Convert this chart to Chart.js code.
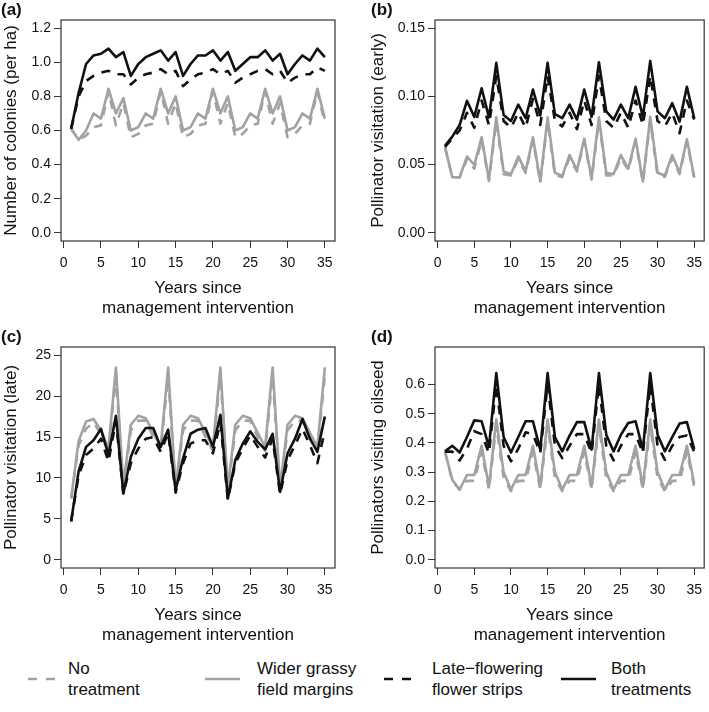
<!DOCTYPE html>
<html><head><meta charset="utf-8">
<script src="https://cdn.jsdelivr.net/npm/chart.js@4"></script>
<style>
html,body{margin:0;padding:0;background:#fff;}
body{width:709px;height:712px;position:relative;overflow:hidden;font-family:"Liberation Sans",Arial,sans-serif;color:#111;}
canvas{position:absolute;}
.lab{position:absolute;font-weight:bold;font-size:17px;line-height:20px;}
.leg{position:absolute;font-size:17px;line-height:21px;white-space:nowrap;}
svg.samp{position:absolute;overflow:visible;}
</style></head><body>
<canvas id="ca" width="354" height="330" style="left:0;top:0"></canvas>
<canvas id="cb" width="349" height="330" style="left:360px;top:0"></canvas>
<canvas id="cc" width="354" height="330" style="left:0;top:327px"></canvas>
<canvas id="cd" width="349" height="330" style="left:360px;top:327px"></canvas>
<div class="lab" style="left:1px;top:0px">(a)</div>
<div class="lab" style="left:371px;top:0px">(b)</div>
<div class="lab" style="left:1px;top:327px">(c)</div>
<div class="lab" style="left:371px;top:327px">(d)</div>
<div id="legend"></div>
<script>
// ---- data ----
const years = [1,2,3,4,5,6,7,8,9,10,11,12,13,14,15,16,17,18,19,20,21,22,23,24,25,26,27,28,29,30,31,32,33,34,35];
const xTicks = [0,5,10,15,20,25,30,35];
const seriesNames = ["No treatment", "Wider grassy field margins", "Late\u2212flowering flower strips", "Both treatments"];
const legendLines = [["No","treatment"],["Wider grassy","field margins"],["Late\u2212flowering","flower strips"],["Both","treatments"]];

// (a) Number of colonies (per ha)
const aTicks = [0.0,0.2,0.4,0.6,0.8,1.0,1.2];
const aNone  = [0.61,0.545,0.57,0.62,0.63,0.83,0.63,0.76,0.56,0.58,0.63,0.64,0.83,0.64,0.76,0.56,0.58,0.63,0.64,0.83,0.64,0.76,0.56,0.58,0.63,0.64,0.83,0.64,0.76,0.56,0.58,0.63,0.64,0.83,0.64];
const aWider = [0.61,0.545,0.60,0.70,0.67,0.845,0.70,0.79,0.60,0.62,0.70,0.67,0.845,0.70,0.80,0.60,0.62,0.70,0.67,0.845,0.70,0.80,0.60,0.62,0.70,0.67,0.845,0.70,0.80,0.60,0.62,0.70,0.67,0.845,0.67];
const aLate  = [0.61,0.80,0.89,0.92,0.94,0.95,0.93,0.93,0.87,0.91,0.93,0.94,0.96,0.93,0.95,0.86,0.90,0.93,0.94,0.96,0.93,0.95,0.88,0.91,0.93,0.95,0.96,0.93,0.95,0.88,0.91,0.93,0.93,0.97,0.95];
const aBoth  = [0.61,0.82,0.99,1.04,1.05,1.08,1.03,1.06,0.92,0.99,1.03,1.05,1.07,1.01,1.06,0.92,0.99,1.04,1.04,1.07,1.01,1.06,0.95,0.99,1.03,1.03,1.07,1.01,1.05,0.93,0.99,1.04,1.01,1.08,1.03];

// (b) Pollinator visitation (early)
const bTicks = [0.00,0.05,0.10,0.15];
const bNone  = [0.063,0.0405,0.0405,0.054,0.047,0.068,0.038,0.082,0.043,0.042,0.054,0.044,0.068,0.037,0.082,0.042,0.041,0.055,0.045,0.067,0.039,0.082,0.042,0.042,0.055,0.046,0.067,0.037,0.082,0.042,0.041,0.055,0.043,0.067,0.040];
const bWider = [0.063,0.0407,0.0407,0.056,0.0497,0.070,0.0388,0.0846,0.045,0.043,0.056,0.045,0.070,0.0376,0.0846,0.044,0.0417,0.057,0.046,0.069,0.040,0.0846,0.044,0.043,0.057,0.047,0.069,0.0376,0.085,0.044,0.042,0.057,0.044,0.0685,0.041];
const bLate  = [0.063,0.069,0.075,0.088,0.077,0.097,0.079,0.115,0.082,0.077,0.088,0.077,0.098,0.079,0.115,0.082,0.078,0.088,0.076,0.097,0.079,0.115,0.082,0.077,0.088,0.077,0.097,0.079,0.115,0.082,0.078,0.088,0.073,0.097,0.083];
const bBoth  = [0.0637,0.0705,0.079,0.0968,0.085,0.106,0.0846,0.1246,0.0863,0.082,0.094,0.084,0.105,0.086,0.1246,0.087,0.084,0.094,0.083,0.105,0.085,0.125,0.089,0.083,0.094,0.084,0.107,0.085,0.126,0.089,0.084,0.095,0.0815,0.107,0.084];

// (c) Pollinator visitation (late)
const cTicks = [0,5,10,15,20,25];
const cNone  = [7.5,14.0,16.0,16.8,15.3,13.2,22.5,8.7,15.8,17.0,17.0,15.0,13.3,22.5,8.5,15.8,17.0,17.0,15.0,13.3,22.5,8.5,15.8,17.0,17.0,15.0,13.3,22.5,8.5,15.8,17.0,17.0,15.0,13.3,22.5];
const cWider = [7.5,14.5,16.9,17.2,15.8,13.6,23.5,9.0,16.5,17.6,17.3,15.5,13.8,23.5,8.8,16.5,17.6,17.3,15.5,13.8,23.5,8.8,16.5,17.6,17.3,15.5,13.8,23.5,8.8,16.5,17.6,17.3,15.5,13.8,23.5];
const cLate  = [4.7,10.3,12.8,13.6,14.8,12.0,17.0,8.0,11.8,13.6,14.8,15.0,13.2,15.5,8.2,11.8,14.2,14.6,14.6,13.0,16.8,7.3,11.8,13.6,15.2,13.8,12.5,14.8,8.0,12.2,14.0,16.0,14.0,11.8,15.8];
const cBoth  = [4.7,10.8,13.8,14.6,16.0,12.8,17.6,8.1,12.6,14.8,16.1,16.1,13.8,15.9,8.5,12.4,15.4,15.9,16.1,13.8,17.7,7.5,12.2,14.2,15.7,14.4,13.5,15.4,8.3,13.0,14.8,17.2,14.8,13.2,17.5];

// (d) Pollinators visiting oilseed
const dTicks = [0.0,0.1,0.2,0.3,0.4,0.5,0.6];
const dNone  = [0.37,0.27,0.24,0.27,0.27,0.37,0.24,0.46,0.28,0.235,0.27,0.27,0.37,0.24,0.46,0.28,0.235,0.27,0.27,0.37,0.24,0.46,0.28,0.235,0.27,0.27,0.37,0.24,0.46,0.28,0.235,0.27,0.27,0.37,0.25];
const dWider = [0.37,0.274,0.24,0.29,0.29,0.39,0.25,0.48,0.30,0.24,0.29,0.29,0.39,0.25,0.48,0.30,0.24,0.29,0.29,0.39,0.25,0.48,0.30,0.24,0.29,0.29,0.39,0.25,0.48,0.30,0.24,0.29,0.29,0.39,0.26];
const dLate  = [0.37,0.37,0.34,0.38,0.44,0.43,0.365,0.60,0.39,0.337,0.38,0.436,0.43,0.365,0.60,0.39,0.348,0.39,0.43,0.43,0.365,0.60,0.39,0.34,0.39,0.43,0.43,0.365,0.60,0.39,0.342,0.39,0.42,0.425,0.37];
const dBoth  = [0.371,0.39,0.367,0.42,0.477,0.474,0.386,0.639,0.42,0.367,0.42,0.474,0.474,0.377,0.639,0.42,0.371,0.425,0.471,0.471,0.377,0.639,0.428,0.371,0.428,0.468,0.474,0.377,0.639,0.428,0.371,0.42,0.466,0.471,0.379];

// ---- styling ----
const FONT = "'Liberation Sans', Arial, Helvetica, sans-serif";
const GREY = '#a2a2a2', BLACK = '#111111';
const styles = [
  {color: GREY, dash: [9, 8]},
  {color: GREY, dash: []},
  {color: BLACK, dash: [9, 8]},
  {color: BLACK, dash: []}
];

const boxPlugin = {
  id: 'box',
  afterDraw(chart) {
    const {ctx, chartArea: a} = chart;
    ctx.save();
    ctx.strokeStyle = '#333';
    ctx.lineWidth = 1.2;
    ctx.strokeRect(a.left, a.top, a.right - a.left, a.bottom - a.top);
    ctx.restore();
  }
};

function panel(id, seriesList, yTicks, yMin, yMax, dec, yTitle, yW, padRight, titlePadTop) {
  const datasets = seriesList.map((vals, i) => ({
    label: seriesNames[i],
    data: years.map((yr, k) => ({x: yr, y: vals[k]})),
    borderColor: styles[i].color,
    borderDash: styles[i].dash,
    borderWidth: 2.6,
    pointRadius: 0,
    tension: 0,
    fill: false,
    borderJoinStyle: 'round',
    borderCapStyle: 'butt',
    order: 4 - i
  }));
  new Chart(document.getElementById(id), {
    type: 'line',
    data: {datasets},
    plugins: [boxPlugin],
    options: {
      responsive: false,
      animation: false,
      devicePixelRatio: 1,
      layout: {padding: {left: 0, right: padRight, top: 20, bottom: 0}, autoPadding: false},
      plugins: {legend: {display: false}, tooltip: {enabled: false}},
      scales: {
        x: {
          type: 'linear', min: -0.36, max: 36.36,
          afterBuildTicks: s => { s.ticks = xTicks.map(v => ({value: v})); },
          afterFit: s => { s.height = 89; },
          ticks: {font: {size: 14, family: FONT}, color: '#111', padding: 7, maxRotation: 0, autoSkip: false},
          grid: {drawOnChartArea: false, drawTicks: true, tickLength: 7, color: '#333', lineWidth: 1},
          border: {display: false},
          title: {display: true, text: ['Years since', 'management intervention'], color: '#111',
                  font: {size: 17, family: FONT, lineHeight: 1.22}, padding: {top: 0, bottom: 11}}
        },
        y: {
          type: 'linear', min: yMin, max: yMax,
          afterBuildTicks: s => { s.ticks = yTicks.map(v => ({value: v})); },
          afterFit: s => { s.width = yW; },
          ticks: {font: {size: 14, family: FONT}, color: '#111', padding: 3,
                  callback: v => Number(v).toFixed(dec)},
          grid: {drawOnChartArea: false, drawTicks: true, tickLength: 7, color: '#333', lineWidth: 1},
          border: {display: false},
          title: {display: true, text: yTitle, color: '#111',
                  font: {size: 17, family: FONT, lineHeight: 1.2}, padding: {top: titlePadTop, bottom: 0}}
        }
      }
    }
  });
}

panel('ca', [aNone, aWider, aLate, aBoth], aTicks, -0.048, 1.248, 1, 'Number of colonies (per ha)', 61, 19, 1);
panel('cb', [bNone, bWider, bLate, bBoth], bTicks, -0.006, 0.156, 2, 'Pollinator visitation (early)', 75, 0, 8);
panel('cc', [cNone, cWider, cLate, cBoth], cTicks, -1, 26, 0, 'Pollinator visitation (late)', 61, 19, 1);
panel('cd', [dNone, dWider, dLate, dBoth], dTicks, -0.028, 0.728, 1, 'Pollinators visiting oilseed', 75, 0, 8);

// ---- legend (HTML) ----
const legX = [{s: 28, t: 68}, {s: 205, t: 257}, {s: 384, t: 432}, {s: 561, t: 611}];
const legDiv = document.getElementById('legend');
legendLines.forEach((lines, i) => {
  const svgNS = 'http://www.w3.org/2000/svg';
  const svg = document.createElementNS(svgNS, 'svg');
  svg.setAttribute('class', 'samp');
  svg.setAttribute('width', '36'); svg.setAttribute('height', '6');
  svg.style.left = legX[i].s + 'px'; svg.style.top = '676px';
  const ln = document.createElementNS(svgNS, 'line');
  ln.setAttribute('x1', '0'); ln.setAttribute('y1', '3'); ln.setAttribute('x2', '35'); ln.setAttribute('y2', '3');
  ln.setAttribute('stroke', styles[i].color); ln.setAttribute('stroke-width', '2.6');
  if (styles[i].dash.length) ln.setAttribute('stroke-dasharray', '9 9');
  svg.appendChild(ln);
  legDiv.appendChild(svg);
  const t = document.createElement('div');
  t.className = 'leg';
  t.style.left = legX[i].t + 'px'; t.style.top = '658px';
  t.innerHTML = lines.join('<br>');
  legDiv.appendChild(t);
});
</script>
</body></html>
